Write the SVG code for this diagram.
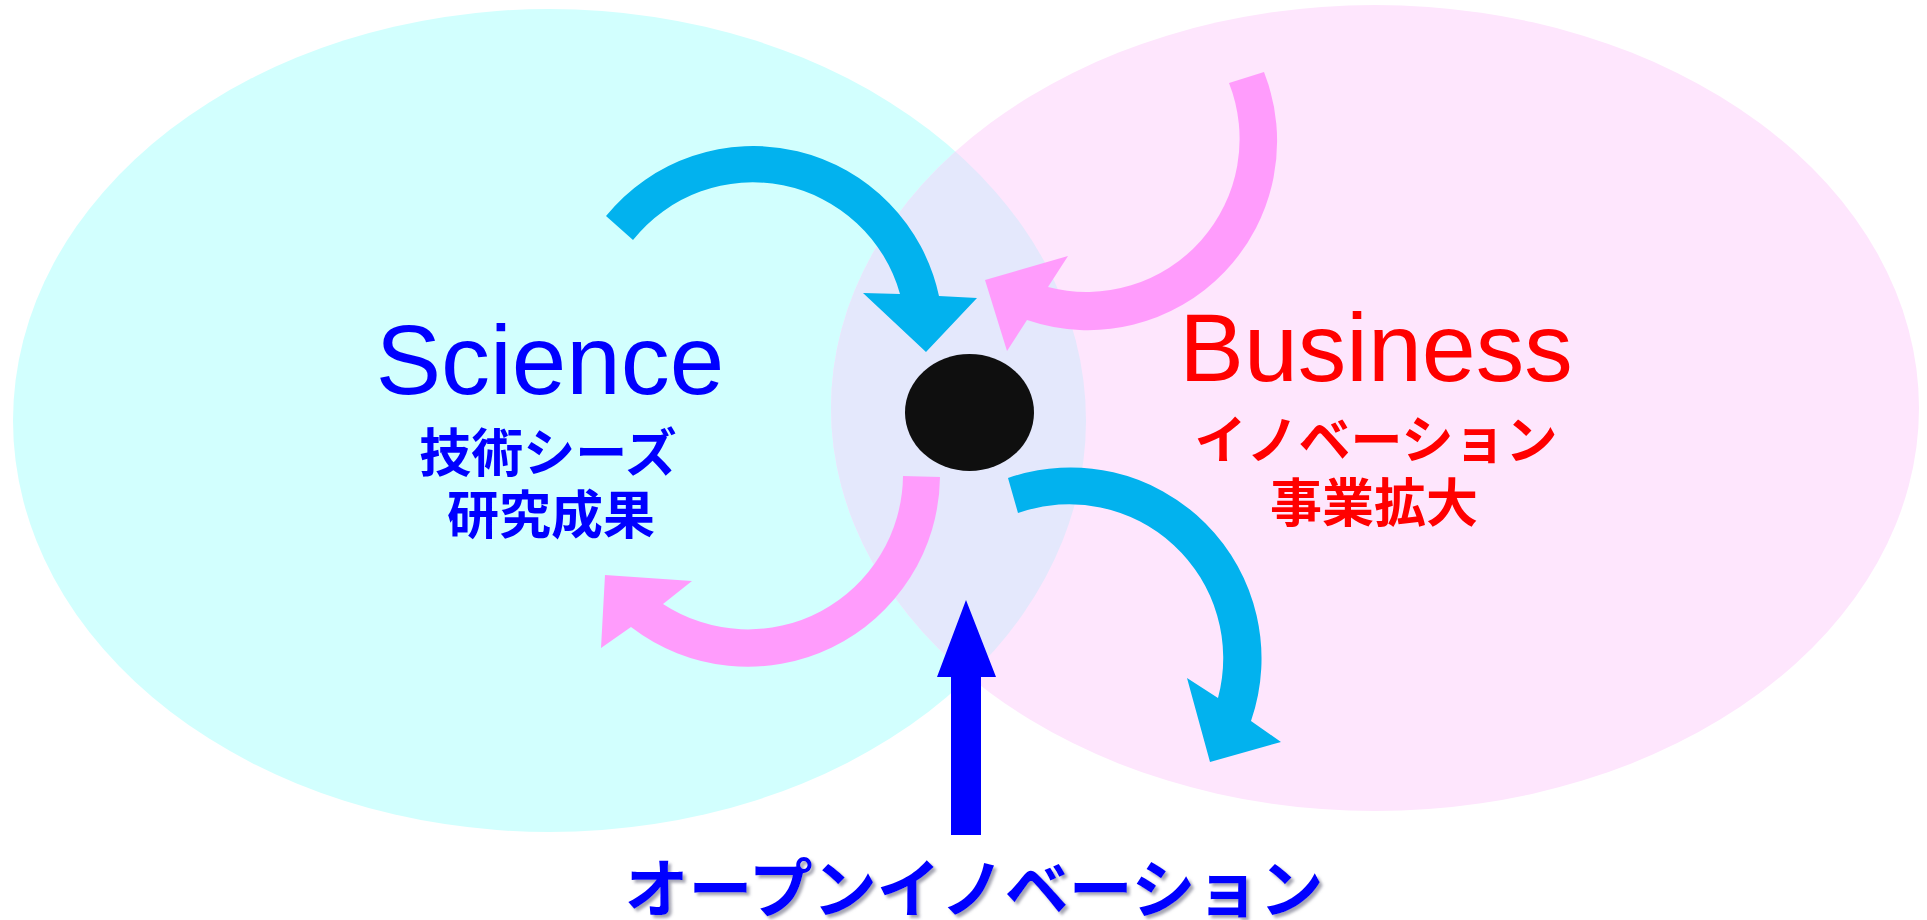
<svg xmlns="http://www.w3.org/2000/svg" width="1927" height="920" viewBox="0 0 1927 920">
  <style>
    .lat { font-family: "Liberation Sans", Arial, sans-serif; text-anchor: middle; }
    .jp { font-family: "Noto Sans CJK JP", "Noto Sans CJK SC", sans-serif; font-weight: 700; text-anchor: middle; }
    .sci { fill: #0000ff; }
    .bus { fill: #ff0000; }
    .cyanArrow { fill: #02b2ee; }
    .pinkArrow { fill: #ff9cfc; }
  </style>
  <defs>
    <clipPath id="pinkClip">
      <ellipse cx="1375" cy="408" rx="544" ry="403"/>
    </clipPath>
    <filter id="shadow" x="-5%" y="-20%" width="110%" height="150%">
      <feDropShadow dx="3" dy="3" stdDeviation="1.5" flood-color="#6a6a80" flood-opacity="0.6"/>
    </filter>
  </defs>
  <rect width="1927" height="920" fill="#ffffff"/>

  <g id="science-area">
    <ellipse cx="549.5" cy="420.5" rx="536.5" ry="411.5" fill="#d2fffe"/>
  </g>
  <g id="business-area">
    <ellipse cx="1375" cy="408" rx="544" ry="403" fill="#fee6fd"/>
  </g>
  <g id="overlap">
    <ellipse cx="549.5" cy="420.5" rx="536.5" ry="411.5" fill="#e4e8fc" clip-path="url(#pinkClip)"/>
  </g>

  <g id="science-label">
    <text class="lat sci" x="550" y="394" font-size="98">Science</text>
    <text class="jp sci" x="548" y="472" font-size="52">技術シーズ</text>
    <text class="jp sci" x="551" y="534" font-size="52">研究成果</text>
  </g>
  <g id="business-label">
    <text class="lat bus" x="1376" y="381" font-size="97">Business</text>
    <text class="jp bus" x="1376" y="459" font-size="52">イノベーション</text>
    <text class="jp bus" x="1374" y="522" font-size="52">事業拡大</text>
  </g>

  <g id="core">
    <ellipse cx="969.5" cy="412.5" rx="64.5" ry="58.5" fill="#0f0f0f"/>
  </g>

  <g id="connectors">
    <path class="cyanArrow" d="M 606,216 A 190 190 0 0 1 939,296 L 977,298 L 926,352 L 863,293 L 900,294 A 153 153 0 0 0 633,240 Z"/>
    <path class="pinkArrow" d="M 1264,72 A 189 189 0 0 1 1027,320 L 1007,351 L 985,280 L 1068,256 L 1048,287 A 153 153 0 0 0 1229,83 Z"/>
    <path class="pinkArrow" d="M 940,477 A 192 192 0 0 1 631,627 L 601,648 L 605,575 L 692,581 L 663,604 A 155 155 0 0 0 903,476 Z"/>
    <path class="cyanArrow" d="M 1008,478 A 191 191 0 0 1 1251,721 L 1281,742 L 1210,762 L 1187,678 L 1218,698 A 154 154 0 0 0 1018,513 Z"/>
    <path fill="#0000ff" d="M 966,600 L 996,677 L 981,677 L 981,835 L 951,835 L 951,677 L 937,677 Z"/>
  </g>

  <g id="open-innovation-label">
    <text class="jp sci" x="974" y="912" font-size="64" filter="url(#shadow)">オープンイノベーション</text>
  </g>
</svg>
